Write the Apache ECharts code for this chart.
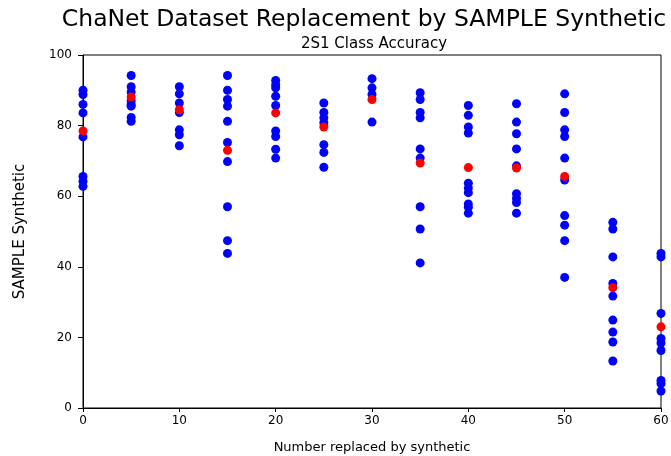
<!DOCTYPE html>
<html>
<head>
<meta charset="utf-8">
<script src="https://cdn.jsdelivr.net/npm/echarts@6/dist/echarts.min.js"></script>
<style>html,body{margin:0;padding:0;background:#fff}#c{width:671px;height:456px}</style>
</head>
<body>
<div id="c"></div>
<script>
const replaced = [0, 5, 10, 15, 20, 25, 30, 35, 40, 45, 50, 55, 60];
const runAccuracies = [
  [90, 88.8, 86, 83.6, 76.8, 65.6, 64.2, 62.8],
  [94.2, 91, 89.5, 87, 86, 85.5, 82.3, 81.2],
  [91, 89, 86.4, 83.7, 78.8, 77.4, 74.3],
  [94.2, 90, 87.4, 85.5, 81.2, 75.2, 69.8, 57, 47.4, 43.8],
  [92.8, 91.6, 90.7, 88.3, 85.7, 78.5, 76.9, 73.3, 70.8],
  [86.4, 83.7, 82.2, 80.8, 74.6, 72.4, 68.2],
  [93.3, 90.7, 88.8, 81],
  [89.3, 87.4, 83.7, 82.2, 73.4, 70.8, 57, 50.7, 41.1],
  [85.7, 82.9, 79.6, 77.9, 63.7, 62.3, 61, 57.8, 56.9, 55.2],
  [86.2, 81, 77.7, 73.4, 68.6, 60.7, 59.4, 58.2, 55.2],
  [89, 83.7, 78.8, 76.9, 70.8, 64.6, 54.5, 51.8, 47.4, 37],
  [52.6, 50.7, 42.8, 35.3, 31.7, 24.9, 21.5, 18.7, 13.3],
  [43.8, 42.8, 26.8, 19.7, 18.4, 16.3, 7.8, 6.9, 4.8]
];
const meanAccuracy = [78.5, 88.1, 84.5, 73, 83.6, 79.6, 87.4, 69.4, 68.1, 68, 65.6, 34.1, 23];
const xTicks = [0, 10, 20, 30, 40, 50, 60];
const yTicks = [0, 20, 40, 60, 80, 100];

const blueData = [];
replaced.forEach((x, i) => runAccuracies[i].forEach(v => blueData.push([x, v])));
const redData = replaced.map((x, i) => [x, meanAccuracy[i]]);

const font = 'DejaVu Sans';
const chart = echarts.init(document.getElementById('c'), null, {renderer: 'canvas'});
chart.setOption({
  animation: false,
  backgroundColor: '#fff',
  title: [
    {text: 'ChaNet Dataset Replacement by SAMPLE Synthetic', left: 359, top: 3, textAlign: 'center',
     textStyle: {fontFamily: font, fontSize: 23.5, fontWeight: 'normal', color: '#000'}},
    {text: '2S1 Class Accuracy', left: 369, top: 32, textAlign: 'center',
     textStyle: {fontFamily: font, fontSize: 15, fontWeight: 'normal', color: '#000'}}
  ],
  grid: {left: 83, right: 10, top: 55, bottom: 48, show: true, borderColor: '#000', borderWidth: 1,
         backgroundColor: 'transparent', containLabel: false, outerBoundsMode: 'none'},
  xAxis: {
    type: 'value', min: 0, max: 60, interval: 10,
    name: 'Number replaced by synthetic', nameLocation: 'middle', nameGap: 33,
    nameTextStyle: {fontFamily: font, fontSize: 13, color: '#000'},
    axisLine: {show: true, lineStyle: {color: '#000'}},
    axisTick: {show: true, inside: false, length: 4, lineStyle: {color: '#000'}},
    axisLabel: {fontFamily: font, fontSize: 12, color: '#000', margin: 7,
      formatter: v => xTicks.includes(v) ? String(v) : ''},
    splitLine: {show: false}
  },
  yAxis: {
    type: 'value', min: 0, max: 100, interval: 20,
    name: 'SAMPLE Synthetic', nameLocation: 'middle', nameGap: 55,
    nameTextStyle: {fontFamily: font, fontSize: 15, color: '#000'},
    axisLine: {show: true, lineStyle: {color: '#000'}},
    axisTick: {show: true, inside: false, length: 5, lineStyle: {color: '#000'}},
    axisLabel: {fontFamily: font, fontSize: 12, color: '#000', margin: 11,
      formatter: v => yTicks.includes(v) ? String(v) : ''},
    splitLine: {show: false}
  },
  series: [
    {type: 'scatter', data: blueData, symbolSize: 9, itemStyle: {color: '#0000ff', opacity: 1}, clip: true},
    {type: 'scatter', data: redData, symbolSize: 9, itemStyle: {color: '#ff0000', opacity: 1}, clip: true}
  ]
});
</script>
</body>
</html>
